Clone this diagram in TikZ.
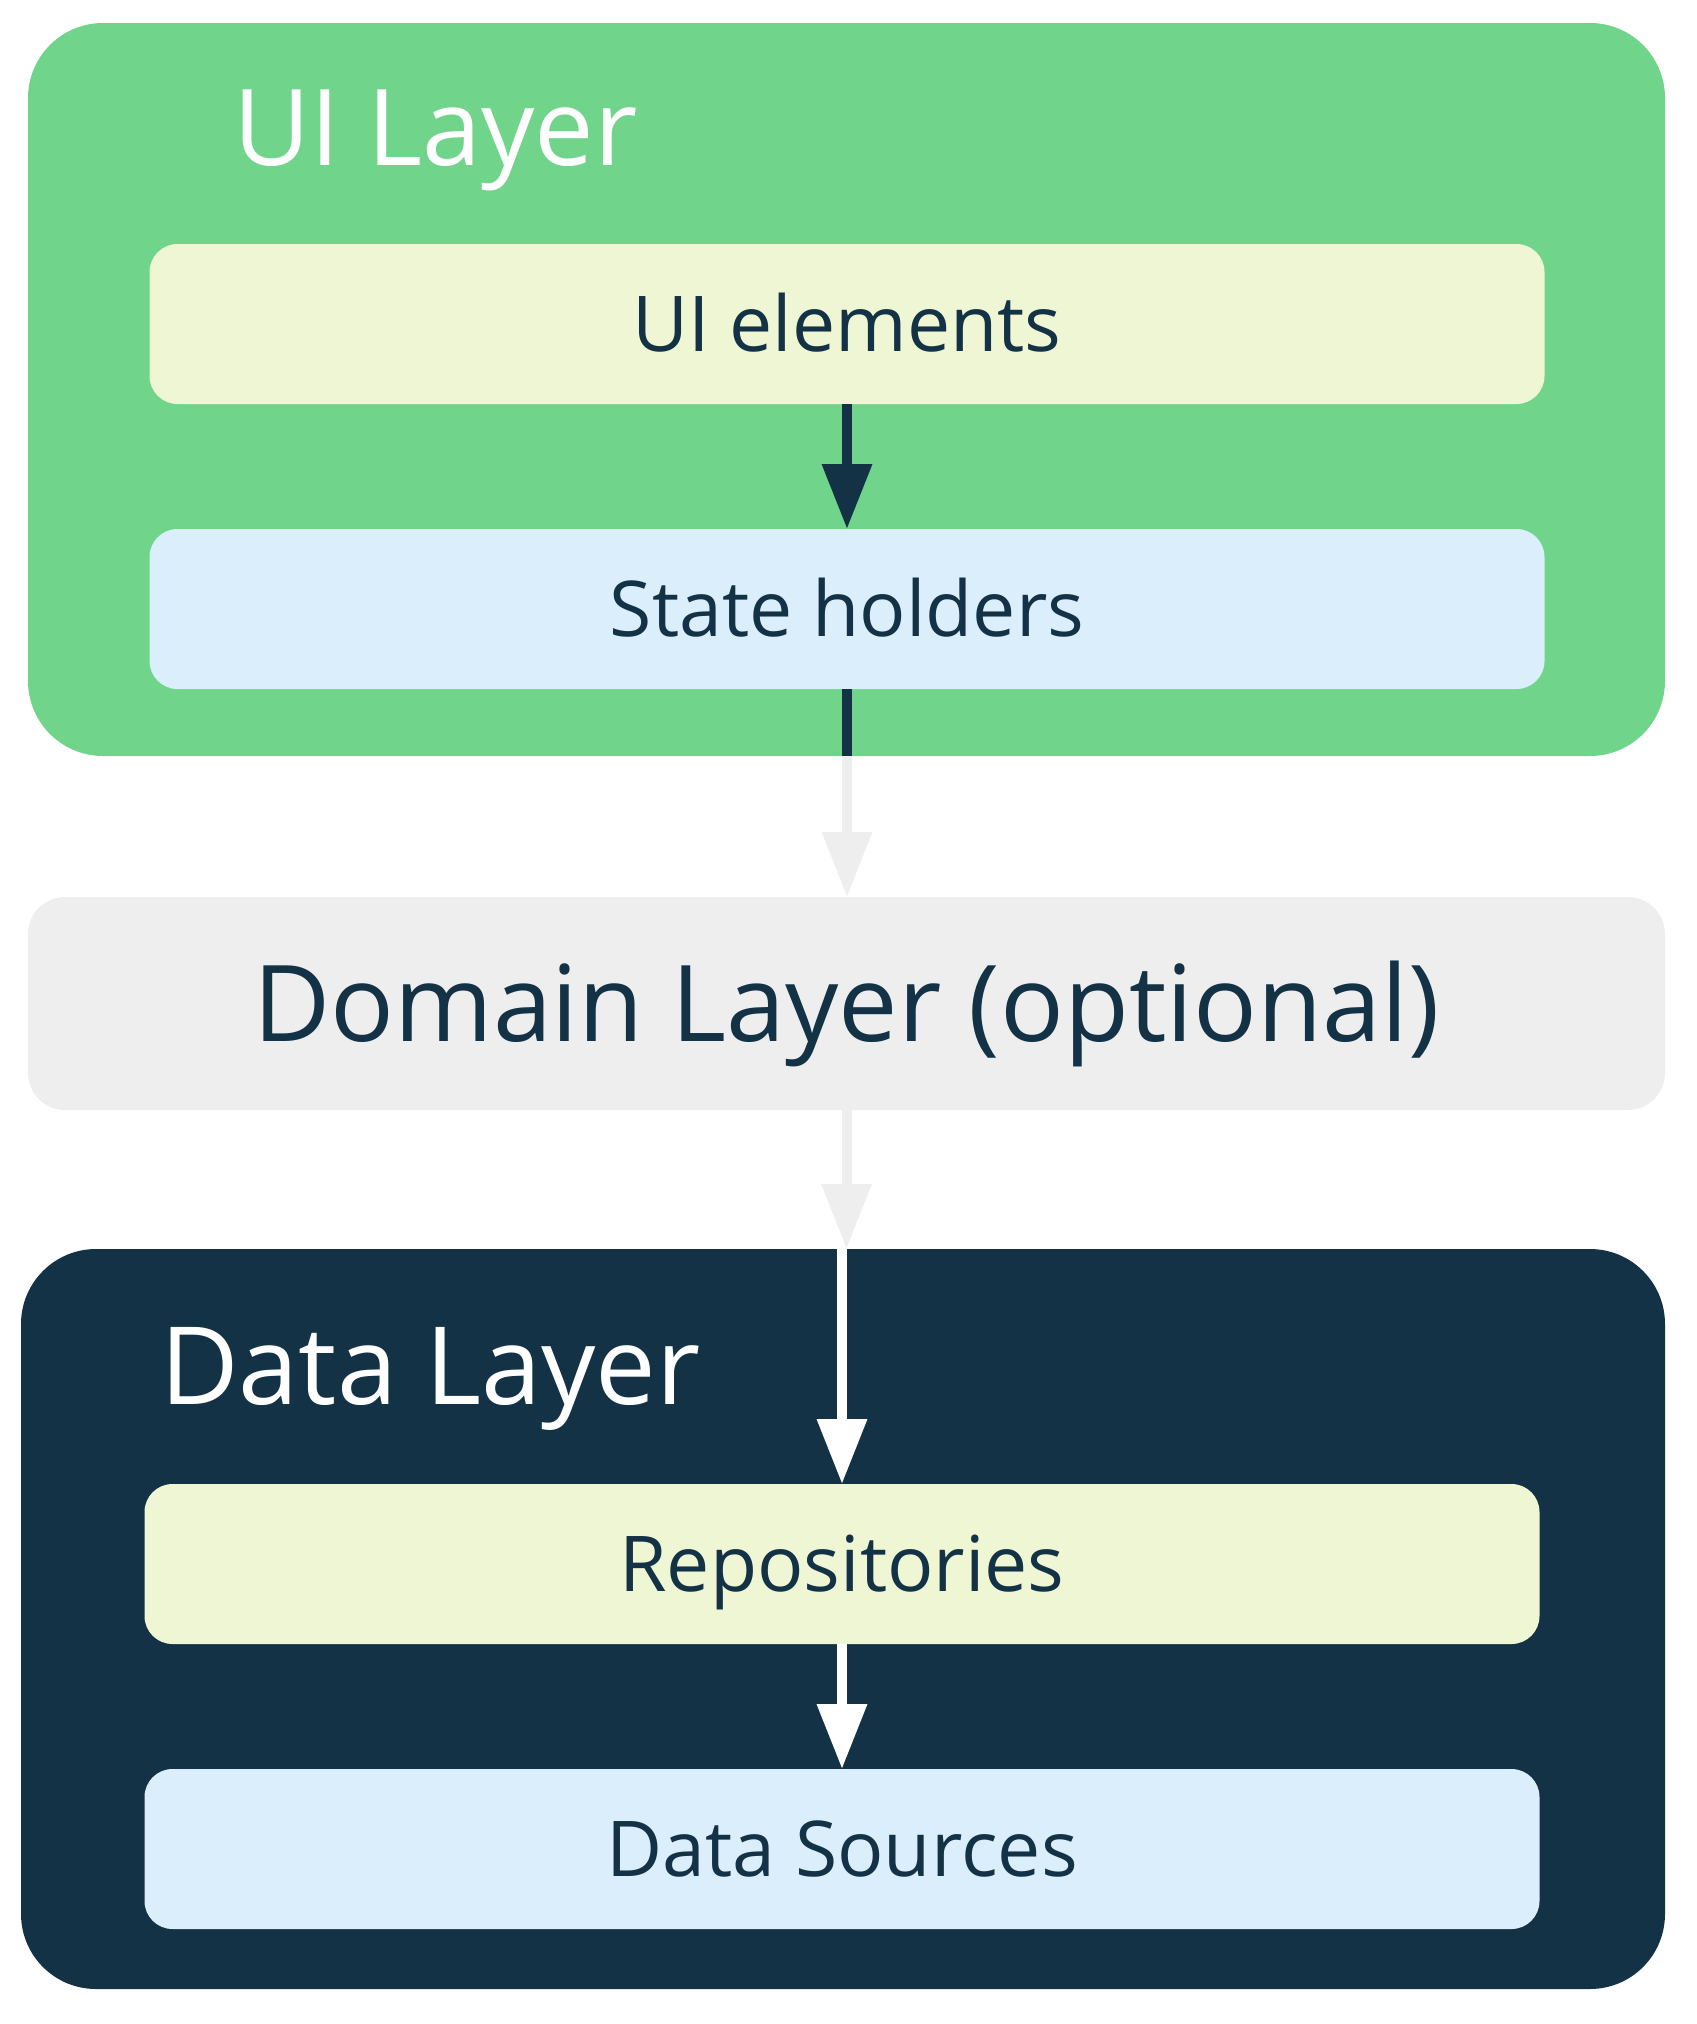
\documentclass[tikz,border=0pt]{standalone}
\usepackage{fontspec}
\setmainfont{Open Sans}
\usetikzlibrary{positioning,arrows.meta}
\definecolor{uigreen}{RGB}{113,212,139}
\definecolor{darknavy}{RGB}{20,50,70}
\definecolor{fillyellow}{RGB}{239,246,211}
\definecolor{fillblue}{RGB}{218,238,252}
\definecolor{fillgray}{RGB}{238,238,238}
\tikzset{
  arrow/.style={-{Triangle[width=48pt,length=65pt]}, line width=10pt},
  title/.style={font=\fontsize{106}{120}\selectfont, inner sep=0pt, anchor=base west},
  layer/.style={
    rectangle,
    rounded corners=75pt,
    minimum width=1637pt,
    inner sep=0pt,
    outer sep=0pt
  },
  block/.style={
    rectangle,
    rounded corners=28pt,
    minimum width=1395pt,
    minimum height=160pt,
    inner sep=0pt,
    outer sep=0pt,
    text height=55pt,
    text depth=0pt,
    text=darknavy,
    font=\fontsize{77}{90}\selectfont
  }
}
\begin{document}
\begin{tikzpicture}[x=1pt, y=-1pt, node distance=125pt]
\useasboundingbox (0,0) rectangle (1697,2024);

% UI layer
\node[layer, fill=uigreen, minimum height=733pt, anchor=north west] (uilayer) at (28,23) {};
\node[title, text=white] (uititle) at (233,165) {UI Layer};
\node[block, fill=fillyellow, anchor=north] (uielem) at (847,244) {UI elements};
\node[block, fill=fillblue, below=of uielem] (stateh) {State holders};

% Domain layer
\node[layer, fill=fillgray, rounded corners=37pt, minimum height=213pt,
  anchor=north west, text=darknavy, text height=76pt, text depth=0pt,
  font=\fontsize{106}{120}\selectfont]
  (domain) at (28,897) {Domain Layer (optional)};

% Data layer
\node[layer, fill=darknavy, minimum width=1644pt, minimum height=740pt, anchor=north west] (datalayer) at (21,1249) {};
\node[title, text=white, font=\fontsize{108}{120}\selectfont] (datatitle) at (160,1404) {Data Layer};
\node[block, fill=fillyellow, anchor=north] (repo) at (842,1484) {Repositories};
\node[block, fill=fillblue, below=of repo] (sources) {Data Sources};

% Connectors
\draw[arrow, draw=darknavy] (uielem) -- (stateh);
\draw[arrow, draw=fillgray] (stateh.south) -- (stateh.south |- domain.north);
\draw[line width=10pt, draw=darknavy] (stateh.south) -- (stateh.south |- uilayer.south);
\draw[arrow, draw=fillgray] (domain.south) -- (domain.south |- datalayer.north);
\draw[arrow, draw=white] (repo.north |- datalayer.north) -- (repo);
\draw[arrow, draw=white] (repo) -- (sources);

\end{tikzpicture}
\end{document}
